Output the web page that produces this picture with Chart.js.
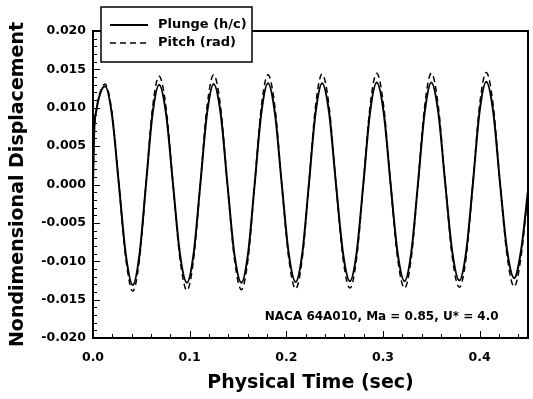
<!DOCTYPE html>
<html>
<head>
<meta charset="utf-8">
<script src="https://cdn.jsdelivr.net/npm/chart.js@4.4.1/dist/chart.umd.min.js"></script>
<style>
  html, body { margin: 0; padding: 0; background: #fff; }
</style>
</head>
<body>
<canvas id="responseChart" width="533" height="399"></canvas>
<script>
// physical time of each sample (sec)
const TIME = [
  0.0000, 0.0012, 0.0035, 0.0075, 0.0124,
  0.0196, 0.0268, 0.0340, 0.0412, 0.0480, 0.0548, 0.0616, 0.0684,
  0.0756, 0.0828, 0.0900, 0.0972, 0.1041, 0.1110, 0.1179, 0.1248,
  0.1320, 0.1391, 0.1463, 0.1535, 0.1604, 0.1672, 0.1741, 0.1810,
  0.1882, 0.1953, 0.2025, 0.2096, 0.2165, 0.2233, 0.2302, 0.2370,
  0.2442, 0.2514, 0.2586, 0.2658, 0.2727, 0.2796, 0.2866, 0.2935,
  0.3007, 0.3079, 0.3151, 0.3223, 0.3292, 0.3361, 0.3431, 0.3500,
  0.3572, 0.3645, 0.3717, 0.3790, 0.3860, 0.3929, 0.3999, 0.4068,
  0.4140, 0.4212, 0.4285, 0.4357, 0.4428, 0.4500
];

// plunge h/c
const PLUNGE = [
  0.0000, 0.0068, 0.0097, 0.0119, 0.0128,
  0.0091, 0.0000, -0.0092, -0.0131, -0.0092, 0.0000, 0.0092, 0.0130,
  0.0092, 0.0000, -0.0091, -0.0128, -0.0090, 0.0000, 0.0092, 0.0131,
  0.0093, 0.0000, -0.0091, -0.0128, -0.0090, 0.0000, 0.0093, 0.0132,
  0.0093, 0.0000, -0.0090, -0.0127, -0.0090, 0.0000, 0.0093, 0.0132,
  0.0094, 0.0000, -0.0089, -0.0126, -0.0089, 0.0000, 0.0094, 0.0133,
  0.0094, 0.0000, -0.0089, -0.0126, -0.0089, 0.0000, 0.0094, 0.0133,
  0.0094, 0.0000, -0.0088, -0.0125, -0.0088, 0.0000, 0.0095, 0.0134,
  0.0095, 0.0000, -0.0087, -0.0122, -0.0086, -0.0008
];

// pitch (rad)
const PITCH = [
  0.0000, 0.0066, 0.0096, 0.0120, 0.0131,
  0.0094, 0.0000, -0.0097, -0.0139, -0.0098, 0.0000, 0.0100, 0.0141,
  0.0100, 0.0000, -0.0097, -0.0138, -0.0097, 0.0000, 0.0101, 0.0143,
  0.0101, 0.0000, -0.0097, -0.0137, -0.0097, 0.0000, 0.0101, 0.0143,
  0.0101, 0.0000, -0.0096, -0.0136, -0.0096, 0.0000, 0.0102, 0.0144,
  0.0102, 0.0000, -0.0096, -0.0135, -0.0096, 0.0000, 0.0102, 0.0145,
  0.0102, 0.0000, -0.0096, -0.0135, -0.0096, 0.0000, 0.0102, 0.0145,
  0.0102, 0.0000, -0.0095, -0.0134, -0.0095, 0.0000, 0.0103, 0.0146,
  0.0103, 0.0000, -0.0094, -0.0133, -0.0094, -0.0009
];

const X_TICKS = [0, 0.1, 0.2, 0.3, 0.4];
const Y_TICKS = [-0.020, -0.015, -0.010, -0.005, 0.000, 0.005, 0.010, 0.015, 0.020];
const SERIES_NAMES = ['Plunge (h/c)', 'Pitch (rad)'];
const CASE_NOTE = 'NACA 64A010, Ma = 0.85, U* = 4.0';

const FONT = "'DejaVu Sans', sans-serif";

function toPoints(ys) {
  return TIME.map((t, i) => ({ x: t, y: ys[i] }));
}

// inward tick marks (major + minor), top/right frame, legend box and case note
const decorations = {
  id: 'decorations',
  afterDatasetsDraw(chart) {
    const { ctx, chartArea: a, scales: { x, y } } = chart;
    ctx.save();
    ctx.strokeStyle = '#000';
    ctx.lineWidth = 1;
    ctx.beginPath();
    for (let i = 0; i <= 22; i++) {
      const px = Math.round(x.getPixelForValue(i * 0.02)) + 0.5;
      const len = i % 5 === 0 ? 7 : 4;
      ctx.moveTo(px, a.bottom);
      ctx.lineTo(px, a.bottom - len);
    }
    for (let i = -20; i <= 20; i++) {
      const py = Math.round(y.getPixelForValue(i * 0.001)) + 0.5;
      const len = i % 5 === 0 ? 7 : 4;
      ctx.moveTo(a.left, py);
      ctx.lineTo(a.left + len, py);
    }
    ctx.stroke();

    ctx.lineWidth = 2;
    ctx.beginPath();
    ctx.moveTo(a.left, a.top);
    ctx.lineTo(a.right, a.top);
    ctx.lineTo(a.right, a.bottom);
    ctx.stroke();

    // legend
    const lx = 101, ly = 7, lw = 151, lh = 55;
    ctx.fillStyle = '#fff';
    ctx.fillRect(lx, ly, lw, lh);
    ctx.lineWidth = 1.5;
    ctx.strokeRect(lx, ly, lw, lh);

    const rows = [25, 43];
    chart.data.datasets.forEach((ds, i) => {
      ctx.beginPath();
      ctx.lineWidth = ds.borderWidth;
      ctx.setLineDash(ds.borderDash || []);
      ctx.moveTo(110, rows[i]);
      ctx.lineTo(148, rows[i]);
      ctx.stroke();
      ctx.setLineDash([]);
      ctx.fillStyle = '#000';
      ctx.font = 'bold 13px ' + FONT;
      ctx.textAlign = 'left';
      ctx.textBaseline = 'middle';
      ctx.fillText(SERIES_NAMES[i], 158, rows[i]);
    });

    // flow condition
    ctx.font = 'bold 12px ' + FONT;
    ctx.fillText(CASE_NOTE, x.getPixelForValue(0.1777), y.getPixelForValue(-0.0172));
    ctx.restore();
  }
};

new Chart(document.getElementById('responseChart'), {
  type: 'line',
  data: {
    datasets: [
      {
        label: SERIES_NAMES[0],
        data: toPoints(PLUNGE),
        borderColor: '#000',
        borderWidth: 2,
        pointRadius: 0,
        cubicInterpolationMode: 'monotone'
      },
      {
        label: SERIES_NAMES[1],
        data: toPoints(PITCH),
        borderColor: '#000',
        borderWidth: 1.5,
        borderDash: [6, 4],
        pointRadius: 0,
        cubicInterpolationMode: 'monotone'
      }
    ]
  },
  options: {
    responsive: false,
    animation: false,
    layout: { padding: { top: 31, right: 5, left: 0, bottom: 0 } },
    plugins: { legend: { display: false }, tooltip: { enabled: false } },
    scales: {
      x: {
        type: 'linear',
        min: 0,
        max: 0.45,
        afterFit: s => { s.height = 61; },
        afterBuildTicks: s => { s.ticks = X_TICKS.map(v => ({ value: v })); },
        grid: { drawOnChartArea: false, drawTicks: false },
        border: { display: true, color: '#000', width: 2 },
        ticks: {
          color: '#000',
          padding: 12,
          maxRotation: 0,
          font: { family: FONT, weight: 'bold', size: 12.5 },
          callback: v => v.toFixed(1)
        },
        title: {
          display: true,
          text: 'Physical Time (sec)',
          color: '#000',
          font: { family: FONT, weight: 'bold', size: 19 },
          padding: { top: 0, bottom: 4.6 }
        }
      },
      y: {
        type: 'linear',
        min: -0.02,
        max: 0.02,
        afterFit: s => { s.width = 93; },
        afterBuildTicks: s => { s.ticks = Y_TICKS.map(v => ({ value: v })); },
        grid: { drawOnChartArea: false, drawTicks: false },
        border: { display: true, color: '#000', width: 2 },
        ticks: {
          color: '#000',
          padding: 7,
          font: { family: FONT, weight: 'bold', size: 12.5 },
          callback: v => (Math.abs(v) < 1e-9 ? 0 : v).toFixed(3)
        },
        title: {
          display: true,
          text: 'Nondimensional Displacement',
          color: '#000',
          font: { family: FONT, weight: 'bold', size: 19 },
          padding: { top: 6.6, bottom: 0 }
        }
      }
    }
  },
  plugins: [decorations]
});
</script>
</body>
</html>
